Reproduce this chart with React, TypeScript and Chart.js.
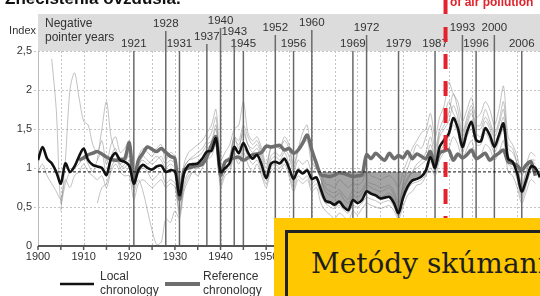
import React, { useEffect, useRef } from "react";
import { Chart, registerables } from "chart.js";
Chart.register(...registerables);

// ---------- DATA ----------
const LOCAL_START = 1900;
const LOCAL = [
  1.10, 1.27, 1.12, 1.06, 0.95, 0.80, 1.06, 0.95, 1.02, 1.15,
  1.25, 1.10, 1.04, 1.02, 1.00, 0.91, 1.12, 1.19, 1.10, 1.08,
  1.03, 0.80, 0.97, 1.04, 1.00, 0.98, 1.02, 1.03, 0.95, 0.97,
  0.96, 0.65, 0.93, 1.04, 1.05, 1.06, 1.12, 1.21, 1.22, 1.38,
  0.95, 1.00, 1.06, 1.27, 1.19, 1.32, 1.20, 1.12, 1.17, 1.04,
  0.87, 1.05, 1.08, 1.06, 1.12, 1.00, 0.86, 0.97, 0.93, 0.97,
  0.86, 0.88, 0.72, 0.58, 0.56, 0.53, 0.57, 0.50, 0.46, 0.59,
  0.55, 0.59, 0.70, 0.67, 0.65, 0.61, 0.62, 0.63, 0.55, 0.42,
  0.62, 0.76, 0.84, 0.86, 0.89, 0.97, 1.14, 1.00, 1.27, 1.36,
  1.44, 1.64, 1.51, 1.27, 1.46, 1.59, 1.36, 1.34, 1.51, 1.42,
  1.27, 1.42, 1.57, 1.12, 1.08, 0.93, 0.70, 0.85, 1.02, 1.00,
  0.88,
];

const REF_START = 1909;
const REFERENCE = [
  1.10,
  1.13, 1.17, 1.19, 1.21, 1.18, 1.14, 1.11, 1.10, 1.11, 1.12,
  1.32, 0.85, 1.10, 1.19, 1.27, 1.24, 1.21, 1.25, 1.20, 1.15,
  1.12, 0.60, 0.97, 1.00, 1.02, 1.03, 1.05, 1.14, 1.29, 1.40,
  0.91, 1.08, 1.11, 1.13, 1.14, 1.10, 1.13, 1.17, 1.18, 1.20,
  1.28, 1.27, 1.28, 1.29, 1.23, 1.25, 1.19, 1.23, 1.32, 1.42,
  1.23, 1.06, 0.91, 0.90, 0.89, 0.91, 0.94, 0.93, 0.91, 0.89,
  0.90, 0.91, 1.17, 1.12, 1.19, 1.14, 1.10, 1.19, 1.12, 1.16,
  1.13, 1.21, 1.12, 1.18, 1.15, 1.12, 1.21, 1.03, 1.19, 1.22,
  1.23, 1.10, 1.18, 1.13, 1.17, 1.23, 1.12, 1.15, 1.19, 1.10,
  1.15, 1.19, 1.23, 1.08, 1.06, 1.03, 0.97, 1.04, 1.08, 0.90,
];

// individual tree series (thin grey)
const TREE_A_START = 1903;
const TREE_A = [
  2.40, 1.75, 0.55, 0.80, 0.95, 1.00, 1.05,
  1.15, 1.05, 0.95, 1.10, 1.20, 0.90, 1.15, 1.25, 1.05, 1.00,
  1.10, 0.70, 0.85, 0.70, 0.45, 0.20, 0.02, 0.05, 0.35, 0.30,
  0.45, 0.35, 0.70, 0.85, 0.95, 0.90, 1.00, 1.10, 1.15, 1.30,
  0.75, 0.90, 0.95, 1.15, 1.05, 1.20, 1.05, 0.95, 1.05, 0.90,
  0.75, 0.95, 1.00, 0.95, 1.05, 0.90, 0.70, 0.85, 0.80, 0.85,
  0.70, 0.75, 0.55, 0.45, 0.40, 0.35, 0.42, 0.38, 0.32, 0.45,
  0.40, 0.48, 0.55, 0.52, 0.50, 0.48, 0.50, 0.52, 0.45, 0.35,
  0.50, 0.65, 0.70, 0.78, 0.80, 0.90, 1.00, 0.90, 1.10, 1.20,
  1.25, 1.40, 1.30, 1.10, 1.25, 1.35, 1.15, 1.15, 1.30, 1.25,
  1.10, 1.20, 1.35, 0.95, 0.90, 0.75, 0.55, 0.70, 0.85, 0.80,
];
const TREE_B_START = 1905;
const TREE_B = [
  0.45, 1.10, 2.00, 2.22, 1.90,
  1.60, 1.55, 1.30, 1.20, 1.35, 1.05, 1.30, 1.40, 1.20, 1.25,
  1.35, 0.90, 1.15, 1.25, 1.20, 1.15, 1.25, 1.30, 1.10, 1.20,
  1.15, 0.55, 1.05, 1.20, 1.25, 1.30, 1.35, 1.45, 1.55, 1.75,
  1.10, 1.20, 1.30, 1.50, 1.55, 1.85, 1.45, 1.35, 1.40, 1.25,
  1.05, 1.25, 1.30, 1.25, 1.40, 1.30, 1.05, 1.25, 1.45, 1.55,
  1.10, 1.00, 0.90, 0.80, 0.78, 0.75, 0.85, 0.80, 0.75, 0.80,
  0.78, 0.82, 0.95, 0.90, 0.88, 0.85, 0.88, 0.90, 0.85, 0.75,
  0.95, 1.10, 1.25, 1.35, 1.45, 1.50, 1.70, 1.40, 1.65, 1.80,
  2.10, 1.95, 1.85, 1.60, 1.75, 1.90, 1.65, 1.70, 1.85, 1.75,
  1.55, 1.75, 2.05, 1.40, 1.30, 1.15, 0.90, 1.05, 1.20, 1.15,
];
const TREE_C_START = 1913;
const TREE_C = [
  1.10, 1.50, 1.85, 1.40, 1.20, 1.00, 0.95,
  1.00, 0.75, 0.95, 1.00, 0.95, 0.85, 0.90, 0.95, 0.80, 0.85,
  0.80, 0.45, 0.75, 0.90, 0.95, 1.00, 1.05, 1.15, 1.20, 1.35,
  0.80, 0.95, 1.00, 1.20, 1.10, 1.25, 1.15, 1.05, 1.10, 0.95,
  0.80, 1.00, 1.05, 1.00, 1.10, 0.95, 0.75, 0.90, 0.85, 0.90,
  0.75, 0.80, 0.65, 0.55, 0.50, 0.48, 0.52, 0.46, 0.42, 0.52,
  0.50, 0.55, 0.62, 0.60, 0.58, 0.55, 0.57, 0.58, 0.50, 0.38,
  0.58, 0.72, 0.80, 0.82, 0.85, 0.92, 1.08, 0.95, 1.20, 1.30,
  1.40, 1.55, 1.45, 1.20, 1.40, 1.50, 1.30, 1.30, 1.45, 1.35,
  1.20, 1.35, 1.50, 1.05, 1.00, 0.85, 0.60, 0.78, 0.95, 0.95,
];
const TREE_D_START = 1913;
const TREE_D = [
  0.55, 0.75, 0.80, 1.00, 1.10, 1.05, 1.10,
  1.15, 0.85, 1.05, 1.10, 1.05, 1.10, 1.15, 1.10, 1.00, 1.05,
  1.00, 0.70, 1.00, 1.10, 1.12, 1.15, 1.20, 1.30, 1.35, 1.55,
  1.00, 1.10, 1.15, 1.35, 1.30, 1.45, 1.30, 1.25, 1.30, 1.15,
  0.95, 1.15, 1.20, 1.15, 1.25, 1.15, 0.95, 1.10, 1.05, 1.10,
  0.95, 1.00, 0.85, 0.75, 0.70, 0.68, 0.72, 0.65, 0.60, 0.72,
  0.68, 0.72, 0.82, 0.80, 0.78, 0.75, 0.76, 0.78, 0.70, 0.55,
  0.75, 0.88, 0.95, 1.00, 1.05, 1.10, 1.30, 1.10, 1.40, 1.50,
  1.60, 1.80, 1.65, 1.40, 1.60, 1.75, 1.50, 1.50, 1.65, 1.55,
  1.40, 1.55, 1.75, 1.25, 1.20, 1.05, 0.80, 0.95, 1.10, 1.10,
];
const TREE_E_START = 1900;
const TREE_E = [
  0.95, 1.05, 0.90, 0.80, 0.70, 0.60, 0.85, 0.75, 0.90, 0.95,
  1.05, 0.95, 0.90, 0.85, 0.90, 0.75, 0.95, 1.05, 0.95, 0.90,
  0.90, 0.60, 0.80, 0.85, 0.80, 0.75, 0.80, 0.85, 0.75, 0.80,
  0.75, 0.40, 0.80, 0.95, 1.00, 1.00, 1.10, 1.25, 1.30, 1.50,
  0.85, 0.95, 1.10, 1.40, 1.25, 1.50, 1.30, 1.20, 1.25, 1.10,
  0.90, 1.10, 1.15, 1.10, 1.20, 1.05, 0.80, 1.00, 0.95, 1.00,
  0.80, 0.85, 0.70, 0.55, 0.55, 0.50, 0.55, 0.50, 0.45, 0.60,
  0.55, 0.60, 0.70, 0.68, 0.65, 0.62, 0.65, 0.68, 0.60, 0.45,
  0.70, 0.85, 0.95, 1.05, 1.10, 1.20, 1.40, 1.15, 1.45, 1.55,
  1.70, 1.95, 1.75, 1.45, 1.65, 1.80, 1.55, 1.55, 1.75, 1.60,
  1.45, 1.60, 1.85, 1.30, 1.25, 1.05, 0.75, 0.95, 1.10, 1.05,
];
const TREE_F_START = 1918;
const TREE_F = [
  1.00, 1.05,
  1.20, 0.80, 1.00, 1.15, 1.10, 1.05, 1.10, 1.15, 1.05, 1.10,
  1.05, 0.60, 1.00, 1.10, 1.15, 1.20, 1.25, 1.35, 1.45, 1.65,
  0.90, 1.05, 1.15, 1.40, 1.35, 1.55, 1.40, 1.30, 1.35, 1.20,
  1.00, 1.25, 1.30, 1.25, 1.35, 1.25, 1.00, 1.20, 1.30, 1.35,
  1.05, 1.00, 0.85, 0.70, 0.65, 0.62, 0.68, 0.60, 0.55, 0.65,
  0.62, 0.68, 0.78, 0.75, 0.72, 0.70, 0.72, 0.75, 0.65, 0.50,
  0.80, 1.00, 1.15, 1.30, 1.25, 1.40, 1.55, 1.25, 1.50, 1.65,
  1.85, 1.70, 1.60, 1.35, 1.55, 1.70, 1.45, 1.40, 1.60, 1.50,
  1.30, 1.45, 1.65, 1.15, 1.10, 0.90, 0.65, 0.85, 1.00, 1.00,
];

// shaded deficit between local chronology and the mean line
const DEFICIT_START = 1962;
const DEFICIT_TOP = [
  0.95, 0.95, 0.95, 0.95, 0.95, 0.95, 0.95, 0.95, 0.95, 0.95,
  0.95, 0.95, 0.95, 0.95, 0.95, 0.95, 0.95, 0.95, 0.95, 0.95,
  0.95, 0.95, 0.95,
];

const MEAN_LEVEL = 0.95;
const YEAR_MIN = 1900;
const YEAR_MAX = 2010;
const AIR_POLLUTION_ONSET = 1989.3;

const POINTER_YEARS = [1921, 1928, 1931, 1937, 1940, 1943, 1945, 1952, 1956, 1960, 1969, 1972, 1979, 1987, 1993, 1996, 2000, 2006];

// ---------- LAYOUT (label heights in the header band) ----------
const POINTER_LABEL_Y: Record<number, number> = {
  1921: 44, 1928: 24, 1931: 44, 1937: 37, 1940: 21, 1943: 32, 1945: 44,
  1952: 28, 1956: 44, 1960: 23, 1969: 44, 1972: 28, 1979: 44, 1987: 44,
  1993: 28, 1996: 44, 2000: 28, 2006: 44,
};

const FONT = '"Liberation Sans", Arial, sans-serif';

const pts = (start: number, vals: number[]) => vals.map((v, i) => ({ x: start + i, y: v }));

const decorPlugin = {
  id: "decor",
  beforeDraw(chart: any) {
    const { ctx, chartArea: ca } = chart;
    const xs = chart.scales.x;
    ctx.save();
    ctx.fillStyle = "#ffffff";
    ctx.fillRect(0, 0, chart.width, chart.height);
    // header band
    ctx.fillStyle = "#dcdcdc";
    ctx.fillRect(ca.left, 14, ca.right - ca.left, ca.top - 14);
    ctx.fillStyle = "#333";
    ctx.font = `11px ${FONT}`;
    ctx.textAlign = "right";
    ctx.textBaseline = "middle";
    ctx.fillText("Index", 36, 31);
    ctx.textAlign = "left";
    ctx.font = `12px ${FONT}`;
    ctx.fillText("Negative", 45, 24);
    ctx.fillText("pointer years", 45, 38);
    ctx.font = `11.5px ${FONT}`;
    ctx.textAlign = "center";
    POINTER_YEARS.forEach((yr) => {
      const px = xs.getPixelForValue(yr);
      ctx.fillText(String(yr), px, POINTER_LABEL_Y[yr]);
    });
    ctx.restore();
  },
  beforeDatasetsDraw(chart: any) {
    const { ctx, chartArea: ca } = chart;
    const xs = chart.scales.x;
    const ys = chart.scales.y;
    ctx.save();
    ctx.strokeStyle = "#c4c4c4";
    ctx.lineWidth = 1;
    ctx.setLineDash([2, 2]);
    for (let v = 0.5; v <= 2.51; v += 0.5) {
      const py = Math.round(ys.getPixelForValue(v)) + 0.5;
      ctx.beginPath();
      ctx.moveTo(34, py);
      ctx.lineTo(ca.right, py);
      ctx.stroke();
    }
    for (let yr = YEAR_MIN + 5; yr <= YEAR_MAX; yr += 5) {
      const px = Math.round(xs.getPixelForValue(yr)) + 0.5;
      ctx.beginPath();
      ctx.moveTo(px, ca.top);
      ctx.lineTo(px, ca.bottom);
      ctx.stroke();
    }
    ctx.setLineDash([]);
    ctx.strokeStyle = "#bbbbbb";
    const x0 = Math.round(xs.getPixelForValue(YEAR_MIN)) + 0.5;
    ctx.beginPath();
    ctx.moveTo(x0, ca.top);
    ctx.lineTo(x0, ca.bottom);
    ctx.stroke();
    // pointer year lines
    ctx.strokeStyle = "#6a6a6a";
    ctx.lineWidth = 1.5;
    POINTER_YEARS.forEach((yr) => {
      const px = xs.getPixelForValue(yr);
      ctx.beginPath();
      ctx.moveTo(px, POINTER_LABEL_Y[yr] + 7);
      ctx.lineTo(px, ca.bottom);
      ctx.stroke();
    });
    ctx.restore();
  },
  afterDraw(chart: any) {
    const { ctx, chartArea: ca } = chart;
    const xs = chart.scales.x;
    ctx.save();
    // x axis line + ticks
    ctx.strokeStyle = "#555";
    ctx.lineWidth = 2;
    ctx.beginPath();
    ctx.moveTo(ca.left, ca.bottom);
    ctx.lineTo(ca.right, ca.bottom);
    ctx.stroke();
    ctx.lineWidth = 1.5;
    for (let yr = YEAR_MIN; yr <= YEAR_MAX; yr += 5) {
      const px = xs.getPixelForValue(yr);
      ctx.beginPath();
      ctx.moveTo(px, ca.bottom);
      ctx.lineTo(px, ca.bottom + 4);
      ctx.stroke();
    }
    // red dashed onset line
    const rx = xs.getPixelForValue(AIR_POLLUTION_ONSET);
    ctx.strokeStyle = "#e3232b";
    ctx.lineWidth = 4;
    ctx.beginPath();
    ctx.moveTo(rx, 0);
    ctx.lineTo(rx, 14);
    ctx.stroke();
    ctx.setLineDash([15, 12]);
    ctx.beginPath();
    ctx.moveTo(rx, 27);
    ctx.lineTo(rx, chart.height);
    ctx.stroke();
    ctx.setLineDash([]);
    // legend
    ctx.strokeStyle = "#111";
    ctx.lineWidth = 2.5;
    ctx.beginPath();
    ctx.moveTo(60, 284);
    ctx.lineTo(94, 284);
    ctx.stroke();
    ctx.strokeStyle = "#6e6e6e";
    ctx.lineWidth = 4;
    ctx.beginPath();
    ctx.moveTo(165, 284);
    ctx.lineTo(200, 284);
    ctx.stroke();
    ctx.fillStyle = "#333";
    ctx.font = `12px ${FONT}`;
    ctx.textAlign = "left";
    ctx.textBaseline = "middle";
    ctx.fillText("Local", 100, 277);
    ctx.fillText("chronology", 100, 291);
    ctx.fillText("Reference", 203, 277);
    ctx.fillText("chronology", 203, 291);
    ctx.restore();
  },
};

export default function App() {
  const ref = useRef<HTMLCanvasElement | null>(null);
  useEffect(() => {
    if (!ref.current) return;
    const thin = (start: number, vals: number[]) => ({
      data: pts(start, vals),
      borderColor: "rgba(120,120,120,0.45)",
      borderWidth: 1,
      pointRadius: 0,
      tension: 0.3,
      fill: false,
      order: 10,
    });
    const chart = new Chart(ref.current, {
      type: "line",
      data: {
        datasets: [
          {
            label: "Local chronology",
            data: pts(LOCAL_START, LOCAL),
            borderColor: "#111111",
            borderWidth: 2.6,
            pointRadius: 0,
            tension: 0.3,
            fill: false,
            order: 0,
          },
          {
            label: "mean",
            data: [{ x: YEAR_MIN, y: MEAN_LEVEL }, { x: YEAR_MAX, y: MEAN_LEVEL }],
            borderColor: "#111111",
            borderWidth: 1,
            borderDash: [3, 2],
            pointRadius: 0,
            fill: false,
            order: 1,
          },
          {
            label: "Reference chronology",
            data: pts(REF_START, REFERENCE),
            borderColor: "#6e6e6e",
            borderWidth: 3.5,
            pointRadius: 0,
            tension: 0.3,
            fill: false,
            order: 2,
          },
          {
            label: "deficit",
            data: pts(DEFICIT_START, DEFICIT_TOP),
            borderColor: "rgba(0,0,0,0)",
            borderWidth: 0,
            backgroundColor: "rgba(105,105,105,0.6)",
            pointRadius: 0,
            fill: { target: 0 },
            order: 3,
          },
          thin(TREE_A_START, TREE_A),
          thin(TREE_B_START, TREE_B),
          thin(TREE_C_START, TREE_C),
          thin(TREE_D_START, TREE_D),
          thin(TREE_E_START, TREE_E),
          thin(TREE_F_START, TREE_F),
        ] as any,
      },
      options: {
        responsive: false,
        animation: false,
        devicePixelRatio: 1,
        layout: { padding: { top: 51, right: 0, bottom: 0, left: 0 } },
        plugins: { legend: { display: false }, tooltip: { enabled: false } },
        scales: {
          x: {
            type: "linear",
            min: YEAR_MIN,
            max: YEAR_MAX,
            grid: { display: false, drawTicks: false, tickLength: 0 },
            border: { display: false },
            ticks: {
              stepSize: 10,
              autoSkip: false,
              maxRotation: 0,
              padding: 4,
              color: "#333",
              font: { size: 11, family: FONT },
              callback: (v: any) => (v >= YEAR_MAX ? "" : String(v)),
            },
            afterFit: (s: any) => {
              s.height = 50;
              s.paddingLeft = 0;
              s.paddingRight = 0;
            },
          },
          y: {
            min: 0,
            max: 2.5,
            grid: { display: false, drawTicks: false, tickLength: 0 },
            border: { display: false },
            ticks: {
              stepSize: 0.5,
              padding: 6,
              color: "#333",
              font: { size: 11, family: FONT },
              callback: (v: any) => String(v).replace(".", ","),
            },
            afterFit: (s: any) => {
              s.width = 38;
              s.paddingTop = 0;
              s.paddingBottom = 0;
            },
          },
        },
      },
      plugins: [decorPlugin],
    });
    return () => chart.destroy();
  }, []);

  return (
    <div style={{ position: "absolute", left: 0, top: 0, width: 540, height: 296, overflow: "hidden", background: "#fff" }}>
      <canvas ref={ref} width={540} height={296} style={{ position: "absolute", left: 0, top: 0 }} />
      <div style={{ position: "absolute", left: 5, top: -10, font: `bold 17px ${FONT}`, color: "#111", whiteSpace: "nowrap", lineHeight: "17px" }}>
        Znečistenia ovzdušia.
      </div>
      <div style={{ position: "absolute", right: 100, top: -17, font: `bold 13px ${FONT}`, color: "#e3232b", whiteSpace: "nowrap", lineHeight: "16px" }}>
        Beginning of the strong impact
      </div>
      <div style={{ position: "absolute", left: 450, top: -4, font: `bold 12px ${FONT}`, color: "#e3232b", whiteSpace: "nowrap", lineHeight: "13px" }}>
        of air pollution
      </div>
      <div style={{ position: "absolute", left: 274, top: 218, width: 266, height: 78, background: "#ffc800", overflow: "hidden" }}>
        <div style={{ position: "absolute", left: 11, top: 12, width: 300, height: 100, borderLeft: "3px solid #222", borderTop: "3px solid #222" }} />
        <div style={{ position: "absolute", left: 37, top: 30, font: `28px "DejaVu Serif", serif`, color: "#1e1e1e", whiteSpace: "nowrap", lineHeight: "32px" }}>
          Metódy skúmania
        </div>
      </div>
    </div>
  );
}
